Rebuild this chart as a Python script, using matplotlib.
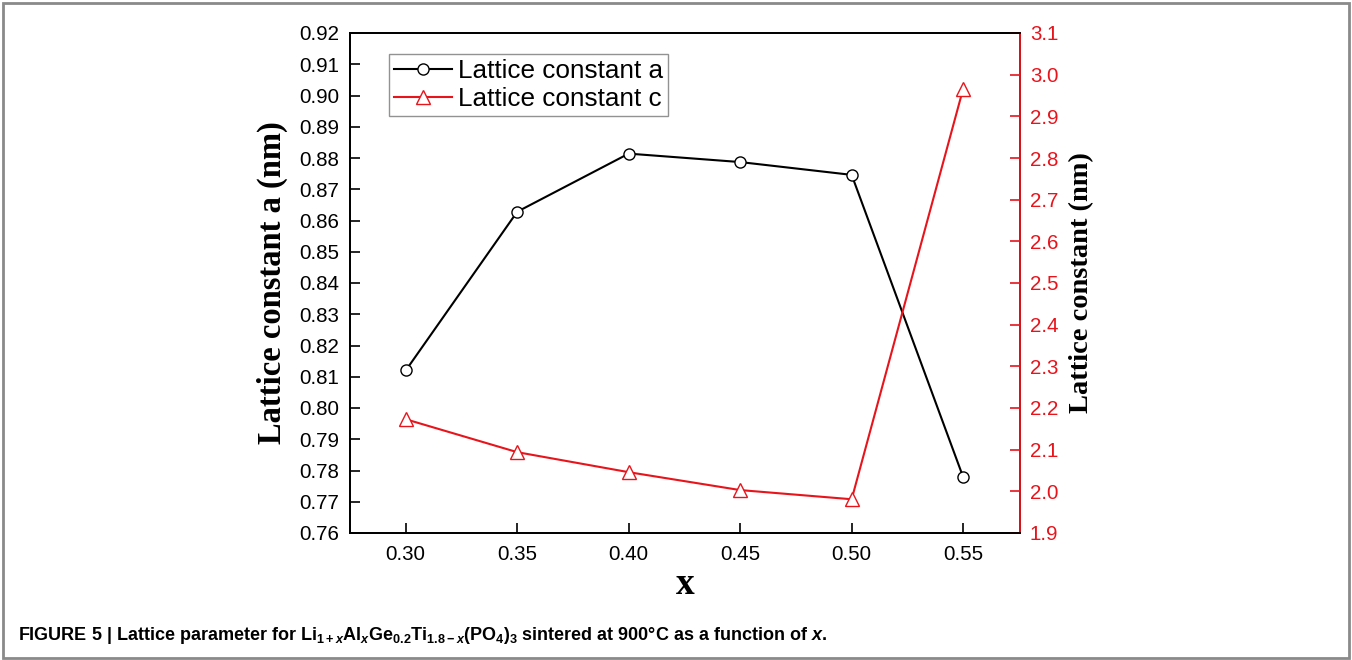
import matplotlib
matplotlib.use("Agg")
import matplotlib.pyplot as plt
from matplotlib.patches import Rectangle

# Data
x_vals = [0.30, 0.35, 0.40, 0.45, 0.50, 0.55]
lattice_a = [0.812, 0.8628, 0.8814, 0.8787, 0.8746, 0.7779]
lattice_c = [2.173, 2.094, 2.046, 2.003, 1.981, 2.966]
x_ticks = [0.30, 0.35, 0.40, 0.45, 0.50, 0.55]
left_ticks = [round(0.76 + 0.01 * i, 2) for i in range(17)]
right_ticks = [round(1.9 + 0.1 * i, 1) for i in range(13)]

plt.rcParams['font.family'] = ['Liberation Sans', 'DejaVu Sans']
plt.rcParams['mathtext.fontset'] = 'custom'
plt.rcParams['mathtext.rm'] = 'Liberation Sans:bold'
plt.rcParams['mathtext.it'] = 'Liberation Sans:bold:italic'
plt.rcParams['mathtext.bf'] = 'Liberation Sans:bold'

fig = plt.figure(figsize=(13.52, 6.6), dpi=100)
ax = fig.add_axes([350/1352, 1-533/660, 670/1352, 500/660])
ax2 = ax.twinx()

la, = ax.plot(x_vals, lattice_a, color='black', lw=1.5, marker='o', ms=8,
              mfc='white', mec='black', mew=1.0, label='Lattice constant a')
lc, = ax2.plot(x_vals, lattice_c, color='#e8141c', lw=1.5, marker='^', ms=9.5,
               mfc='white', mec='#e8141c', mew=1.0, label='Lattice constant c')

ax.set_xlim(0.275, 0.5755)
ax.set_ylim(0.76, 0.92)
ax2.set_ylim(1.9, 3.1)
ax.set_xticks(x_ticks)
ax.set_xticklabels([f"{v:.2f}" for v in x_ticks])
ax.set_yticks(left_ticks)
ax.set_yticklabels([f"{v:.2f}" for v in left_ticks])
ax2.set_yticks(right_ticks)
ax2.set_yticklabels([f"{v:.1f}" for v in right_ticks])

for a in (ax, ax2):
    for s in a.spines.values():
        s.set_linewidth(1.3)
ax.tick_params(axis='both', direction='in', length=7, width=1.2, labelsize=14.8, pad=8)
ax.tick_params(axis='x', pad=9)
ax2.tick_params(axis='y', direction='in', length=7, width=1.2, labelsize=14.8, pad=7,
                colors='#e8141c')
ax2.spines['right'].set_color('#e8141c')

ax.set_ylabel('Lattice constant a (nm)', family='Liberation Serif', fontweight='bold',
              fontsize=23.5, labelpad=8)
ax2.set_ylabel('Lattice constant (nm)', family='Liberation Serif', fontweight='bold',
               fontsize=20.5, labelpad=8)
ax.set_xlabel('x', family='Liberation Serif', fontweight='bold', fontsize=27, labelpad=2)

leg = ax2.legend(handles=[la, lc], loc='upper left', bbox_to_anchor=(0.058, 0.958),
                 borderaxespad=0, fontsize=18.8, frameon=True, fancybox=False,
                 edgecolor='#777777', handlelength=2.2, handletextpad=0.25,
                 borderpad=0.2, labelspacing=0.15)
leg.get_frame().set_linewidth(1.0)

caption = ('FIGURE 5 | Lattice parameter for Li$_{1+x}$Al$_{x}$Ge$_{0.2}$Ti$_{1.8\u2212x}$'
           '(PO$_{4}$)$_{3}$ sintered at 900°C as a function of $x$.')
fig.text(18/1352, 1-636/660, caption, family='Liberation Sans', fontweight='bold',
         fontsize=13, va='center', ha='left')

fig.patches.append(Rectangle((3/1352, 2/660), 1346/1352, 655/660, transform=fig.transFigure,
                             fill=False, edgecolor='#8a8a8a', lw=2))

fig.savefig('out.png', dpi=100)
